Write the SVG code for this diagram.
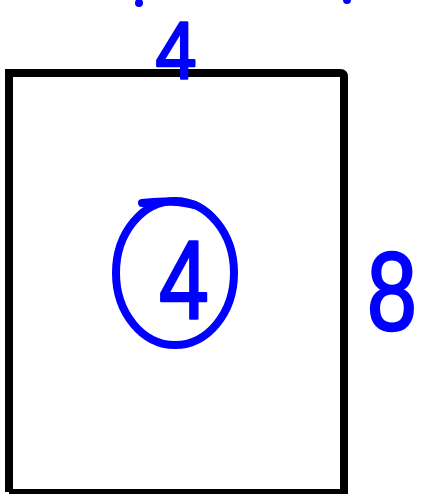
<svg xmlns="http://www.w3.org/2000/svg" width="421" height="494" viewBox="0 0 421 494">
<style>
.hand{font-family:"Liberation Sans",Arial,sans-serif;fill:#0000ff;stroke:#0000ff;stroke-width:2.5;stroke-linejoin:round;text-anchor:middle}
.ink{fill:none;stroke:#0000ff;stroke-width:8;stroke-linecap:round}
</style>
<rect width="421" height="494" fill="#ffffff"/>
<g id="rectangle">
<path d="M9,492 L9,73 L340,73 Q344,73 344,77 L344,494" fill="#ffffff" stroke="#000000" stroke-width="8"/>
<path d="M9,492 L344,492" stroke="#000000" stroke-width="6" fill="none"/>
</g>
<g id="top-label">
<text class="hand" x="176" y="79" font-size="82" transform="translate(176 0) scale(0.9 1) translate(-176 0)">4</text>
<circle cx="139" cy="3" r="4" fill="#0000ff"/>
<circle cx="347" cy="0" r="4" fill="#0000ff"/>
</g>
<g id="center-label">
<ellipse class="ink" cx="175" cy="273" rx="59" ry="72"/>
<path class="ink" d="M142,203 Q170,199 195,205"/>
<text class="hand" x="184" y="318" font-size="112" transform="translate(184 0) scale(0.8 1) translate(-184 0)">4</text>
</g>
<g id="right-label">
<text class="hand" x="392" y="330" font-size="112" transform="translate(392 0) scale(0.8 1) translate(-392 0)">8</text>
</g>
</svg>
